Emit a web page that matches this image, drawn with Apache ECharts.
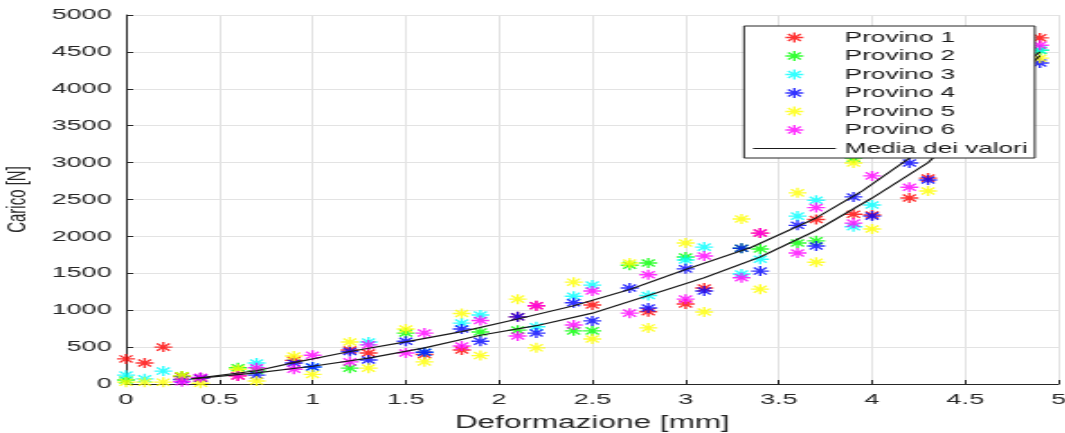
<!DOCTYPE html>
<html>
<head>
<meta charset="utf-8">
<script src="https://cdn.jsdelivr.net/npm/echarts@6/dist/echarts.min.js"></script>
<style>
  html, body { margin: 0; padding: 0; background: #fff; overflow: hidden; }
  #chart { height: 433px; transform-origin: 0 0; }
</style>
</head>
<body>
<div id="chart"></div>
<script>
// the reference figure is stretched horizontally, so draw narrow and scale X
var SX = 1.8;
var W = 1065 / SX;

var xTicks = [0, 0.5, 1, 1.5, 2, 2.5, 3, 3.5, 4, 4.5, 5];
var yTicks = [0, 500, 1000, 1500, 2000, 2500, 3000, 3500, 4000, 4500, 5000];

var provino1 = [[0, 340], [0.1, 285], [0.2, 500], [0.3, 100], [0.4, 80], [0.6, 110], [0.9, 320], [1.2, 460], [1.3, 420],
  [1.6, 400], [1.8, 460], [2.1, 910], [2.2, 1060], [2.5, 1070], [2.8, 980], [3.0, 1085], [3.1, 1300], [3.4, 2045],
  [3.7, 2230], [3.9, 2300], [4.0, 2290], [4.2, 2520], [4.3, 2790], [4.9, 4690]];
var provino2 = [[0, 55], [0.3, 110], [0.6, 220], [0.7, 180], [1.2, 215], [1.5, 690], [1.9, 705], [2.1, 730], [2.4, 720],
  [2.5, 720], [2.7, 1610], [2.8, 1640], [3.0, 1720], [3.3, 1840], [3.4, 1830], [3.6, 1910], [3.7, 1940], [3.9, 3060],
  [4.9, 4520]];
var provino3 = [[0, 120], [0.1, 70], [0.2, 175], [0.7, 285], [1.0, 230], [1.3, 570], [1.6, 430], [1.8, 825], [1.9, 935],
  [2.2, 775], [2.4, 1190], [2.5, 1340], [2.8, 1200], [3.0, 1680], [3.1, 1855], [3.3, 1490], [3.4, 1690], [3.6, 2275],
  [3.7, 2490], [3.9, 2130], [4.0, 2425], [4.2, 3115], [4.5, 3130], [4.9, 4525]];
var provino4 = [[0.3, 60], [0.4, 80], [0.7, 120], [0.9, 285], [1.0, 230], [1.2, 440], [1.3, 325], [1.5, 580], [1.6, 430],
  [1.8, 745], [1.9, 580], [2.1, 910], [2.2, 690], [2.4, 1100], [2.5, 855], [2.7, 1300], [2.8, 1030], [3.0, 1560],
  [3.1, 1260], [3.3, 1840], [3.4, 1530], [3.6, 2150], [3.7, 1870], [3.9, 2535], [4.0, 2275], [4.2, 2995], [4.3, 2765],
  [4.9, 4350]];
var provino5 = [[0, 25], [0.1, 25], [0.2, 25], [0.3, 110], [0.4, 10], [0.6, 200], [0.7, 40], [0.9, 380], [1.0, 130],
  [1.2, 570], [1.3, 215], [1.5, 745], [1.6, 300], [1.8, 955], [1.9, 385], [2.1, 1150], [2.2, 490], [2.4, 1380],
  [2.5, 610], [2.7, 1640], [2.8, 760], [3.0, 1910], [3.1, 975], [3.3, 2235], [3.4, 1285], [3.6, 2590], [3.7, 1650],
  [3.9, 2995], [4.0, 2100], [4.3, 2615], [4.9, 4415]];
var provino6 = [[0.3, 30], [0.4, 90], [0.6, 110], [0.7, 220], [0.9, 200], [1.0, 390], [1.2, 300], [1.3, 530], [1.5, 420],
  [1.6, 690], [1.8, 515], [1.9, 860], [2.1, 650], [2.2, 1060], [2.4, 800], [2.5, 1260], [2.7, 960], [2.8, 1480],
  [3.0, 1150], [3.1, 1735], [3.3, 1440], [3.4, 2045], [3.6, 1775], [3.7, 2390], [3.9, 2180], [4.0, 2820], [4.2, 2665],
  [4.9, 4590]];

// two black curves, only the first one is in the legend
var mediaSup = [[0.35, 70], [0.7, 180], [0.9, 290], [1.2, 440], [1.5, 570], [1.8, 710], [2.1, 880], [2.4, 1060],
  [2.7, 1280], [3.0, 1550], [3.35, 1850], [3.7, 2250], [3.95, 2620], [4.2, 3060], [4.9, 4500]];
var mediaInf = [[0.35, 70], [0.7, 150], [1.0, 240], [1.3, 350], [1.6, 490], [1.9, 660], [2.2, 790], [2.5, 960],
  [2.8, 1200], [3.1, 1440], [3.4, 1720], [3.7, 2080], [4.0, 2520], [4.3, 3000], [4.9, 4450]];

var provini = [
  { name: 'Provino 1', color: '#ff0000', data: provino1 },
  { name: 'Provino 2', color: '#00ff00', data: provino2 },
  { name: 'Provino 3', color: '#00ffff', data: provino3 },
  { name: 'Provino 4', color: '#0000ff', data: provino4 },
  { name: 'Provino 5', color: '#ffff00', data: provino5 },
  { name: 'Provino 6', color: '#ff00ff', data: provino6 }
];

// asterisk marker made of 4 thin bars, same winding so they fill as one
function star(w) {
  var p = '', r = 10;
  [0, 45, 90, 135].forEach(function (a) {
    var t = a * Math.PI / 180, dx = Math.cos(t), dy = Math.sin(t), nx = -dy, ny = dx;
    var pts = [
      [10 + dx * r + nx * w, 10 + dy * r + ny * w],
      [10 + dx * r - nx * w, 10 + dy * r - ny * w],
      [10 - dx * r - nx * w, 10 - dy * r - ny * w],
      [10 - dx * r + nx * w, 10 - dy * r + ny * w]
    ];
    p += 'M' + pts.map(function (q) { return q[0].toFixed(2) + ' ' + q[1].toFixed(2); }).join(' L') + ' Z ';
  });
  return 'path://' + p;
}
var STAR = star(1.4);
var LINE_ICON = 'path://M0 0 L460 0 L460 11 L0 11 Z';

var dom = document.getElementById('chart');
dom.style.width = W + 'px';
dom.style.transform = 'scaleX(' + SX + ')';
var chart = echarts.init(dom);

var txt = '#262626';
var black = '#1a1a1a';
var series = provini.map(function (p) {
  return {
    name: p.name,
    type: 'scatter',
    data: p.data,
    symbol: STAR,
    symbolSize: 10,
    symbolKeepAspect: true,
    itemStyle: { color: p.color },
    z: 2
  };
});
series.push({
  name: 'Media dei valori', type: 'line', data: mediaSup, symbol: 'none',
  itemStyle: { color: black }, lineStyle: { color: black, width: 1.2 }, z: 3
});
series.push({
  name: 'media2', type: 'line', data: mediaInf, symbol: 'none',
  itemStyle: { color: black }, lineStyle: { color: black, width: 1.2 }, z: 3
});

var legendData = provini.map(function (p) { return { name: p.name }; });
legendData.push({ name: 'Media dei valori', icon: LINE_ICON });

chart.setOption({
  animation: false,
  textStyle: { fontFamily: 'Liberation Sans' },
  grid: {
    left: 70, right: W - 1058 / SX, top: 15, bottom: 49,
    containLabel: false, outerBoundsMode: 'none'
  },
  legend: {
    data: legendData,
    orient: 'vertical',
    left: 744 / SX, top: 26,
    padding: [4, 4, 2, 5],
    itemWidth: 46, itemHeight: 10, itemGap: 3.5,
    backgroundColor: '#fff',
    borderColor: '#262626', borderWidth: 1, borderRadius: 0,
    selectedMode: false,
    textStyle: { fontSize: 14.5, lineHeight: 14.5, color: black, fontFamily: 'Liberation Sans' }
  },
  xAxis: {
    type: 'value', min: xTicks[0], max: xTicks[xTicks.length - 1], interval: 0.5,
    name: 'Deformazione [mm]', nameLocation: 'middle', nameGap: 30,
    nameTextStyle: { fontSize: 17.5, color: txt },
    axisLine: { show: true, onZero: false, lineStyle: { color: '#262626', width: 1 } },
    axisTick: { show: true, inside: true, length: 4, lineStyle: { color: '#262626' } },
    axisLabel: { fontSize: 15, color: txt, margin: 8, formatter: function (v) { return String(v); } },
    splitLine: { show: true, lineStyle: { color: '#e3e3e3', width: 1 } }
  },
  yAxis: {
    type: 'value', min: yTicks[0], max: yTicks[yTicks.length - 1], interval: 500,
    name: 'Carico [N]', nameLocation: 'middle', nameGap: 47, nameRotate: 90,
    nameTextStyle: { fontSize: 15, color: txt },
    axisLine: { show: true, lineStyle: { color: '#262626', width: 1 } },
    axisTick: { show: true, inside: true, length: 4, lineStyle: { color: '#262626' } },
    axisLabel: { fontSize: 15, color: txt, margin: 8, formatter: function (v) { return String(v); } },
    splitLine: { show: true, lineStyle: { color: '#e3e3e3', width: 1 } }
  },
  series: series
});
</script>
</body>
</html>
